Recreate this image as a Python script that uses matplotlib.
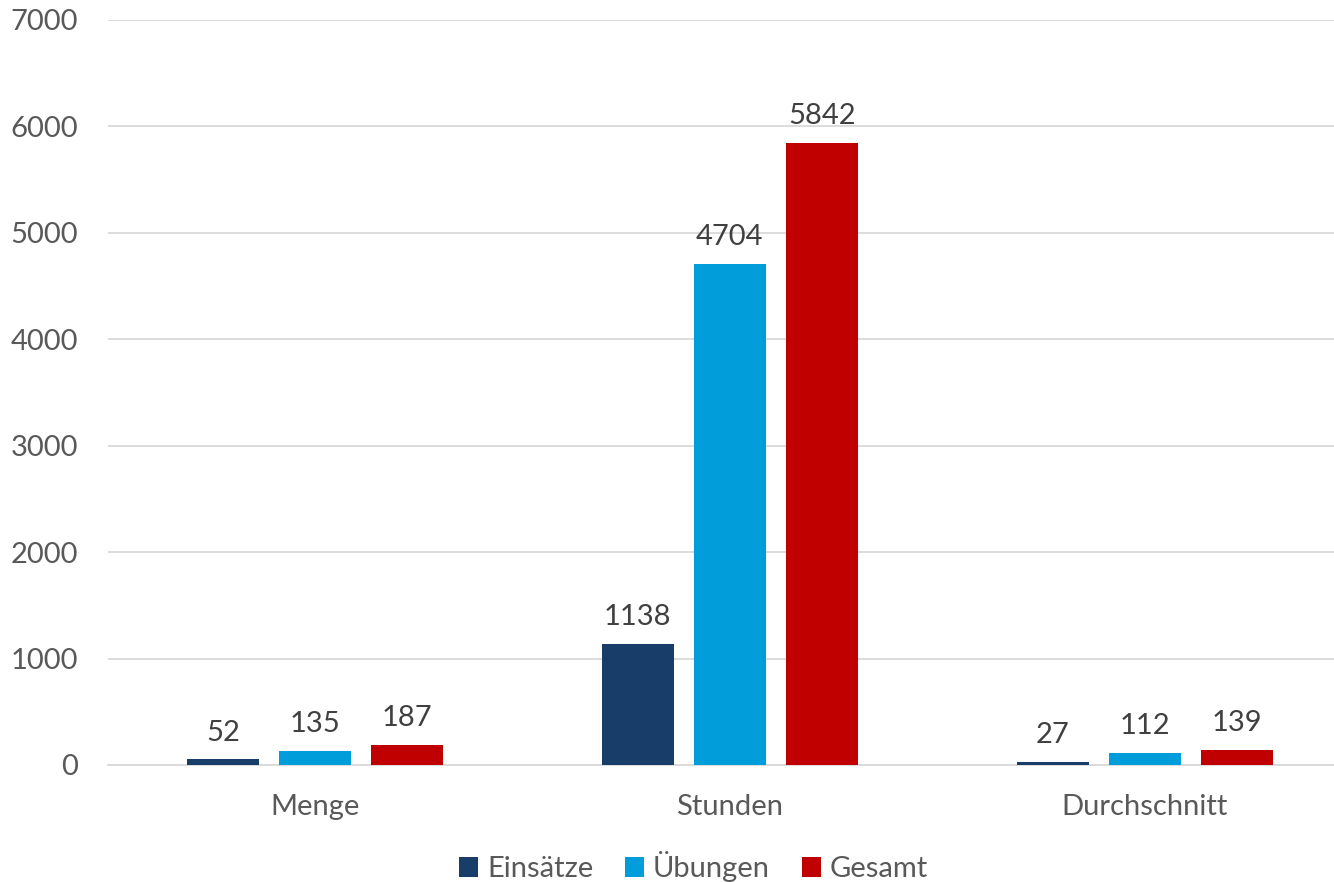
import numpy as np
import matplotlib.pyplot as plt

categories = ['Menge', 'Stunden', 'Durchschnitt']
series_names = ['Einsätze', 'Übungen', 'Gesamt']
einsaetze = [52, 1138, 27]
uebungen = [135, 4704, 112]
gesamt = [187, 5842, 139]
colors = ['#173D68', '#009DDA', '#C00000']

plt.rcParams['font.family'] = ['Lato', 'DejaVu Sans']

fig = plt.figure(figsize=(13.34, 8.82), dpi=100)
ax = fig.add_axes([0.0806, 0.1327, 0.933, 0.8447])

x = np.arange(len(categories))
w = 0.174
step = 0.222
for i, (name, vals) in enumerate(zip(series_names, [einsaetze, uebungen, gesamt])):
    bars = ax.bar(x + (i - 1) * step, vals, w, color=colors[i], label=name, zorder=3)
    for b, v in zip(bars, vals):
        ax.text(b.get_x() + b.get_width() / 2, v + 130, str(v), ha='center', va='bottom',
                fontsize=21, color='#404040')

ax.set_xlim(-0.5, 2.5)
ax.set_ylim(0, 7000)
ax.set_yticks(range(0, 7001, 1000))
ax.set_xticks(x)
ax.set_xticklabels(categories)
ax.yaxis.grid(True, color='#D9D9D9', linewidth=1.3, zorder=0)
for s in ['top', 'right', 'left']:
    ax.spines[s].set_visible(False)
ax.spines['bottom'].set_color('#D9D9D9')
ax.spines['bottom'].set_linewidth(1.3)
ax.tick_params(axis='both', length=0, labelsize=21, labelcolor='#595959')
ax.tick_params(axis='x', pad=21)
ax.tick_params(axis='y', pad=21)

leg = fig.legend(loc='lower center', bbox_to_anchor=(0.52, -0.03), ncol=3, frameon=False,
                 fontsize=21, handlelength=0.65, handleheight=0.65, handletextpad=0.3,
                 columnspacing=1.1)
for t in leg.get_texts():
    t.set_color('#595959')

fig.savefig('out.png', dpi=100)
